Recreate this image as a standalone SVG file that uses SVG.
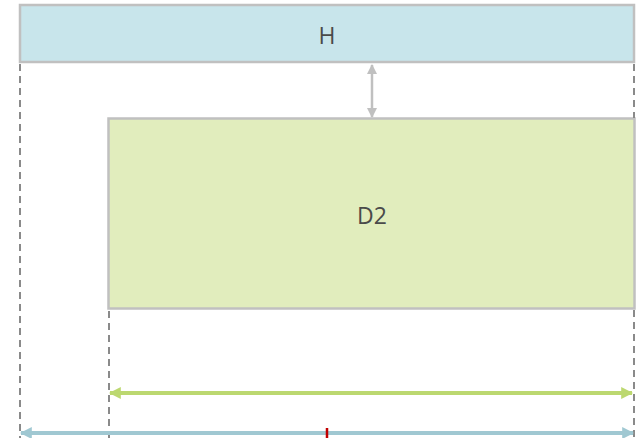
<svg xmlns="http://www.w3.org/2000/svg" width="637" height="438" viewBox="0 0 637 438">
  <style>
    .box { stroke: #c0c0c0; stroke-width: 2.5; }
    .lbl { font-family: "Open Sans", "Liberation Sans", sans-serif; font-size: 23px; fill: #4a4a4a; text-anchor: middle; dominant-baseline: central; }
    .guide { stroke: #8a8a8a; stroke-width: 2; stroke-dasharray: 7 5; fill: none; }
  </style>
  <defs>
    <marker id="ahGray" viewBox="0 0 10 10" refX="9" refY="5" markerWidth="4" markerHeight="4" orient="auto-start-reverse">
      <path d="M0,0 L10,5 L0,10 z" fill="#c0c0c0"/>
    </marker>
    <marker id="ahGreen" viewBox="0 0 10 10" refX="9" refY="5" markerWidth="3" markerHeight="3" orient="auto-start-reverse">
      <path d="M0,0 L10,5 L0,10 z" fill="#bcd870"/>
    </marker>
    <marker id="ahBlue" viewBox="0 0 10 10" refX="9" refY="5" markerWidth="3" markerHeight="3" orient="auto-start-reverse">
      <path d="M0,0 L10,5 L0,10 z" fill="#a0c8d2"/>
    </marker>
  </defs>

  <g id="H">
    <rect class="box" x="20" y="5" width="614" height="57" fill="#c8e5eb"/>
    <text class="lbl" x="327" y="35">H</text>
  </g>

  <g id="D2">
    <rect class="box" x="108.5" y="118.5" width="526" height="190" fill="#e1edbd"/>
    <text class="lbl" x="372" y="215">D2</text>
  </g>

  <g id="connectors">
    <!-- extension guides -->
    <line class="guide" x1="20" y1="64" x2="20" y2="438"/>
    <line class="guide" x1="634" y1="64" x2="634" y2="118"/>
    <line class="guide" x1="634" y1="310" x2="634" y2="438"/>
    <line class="guide" x1="109" y1="311" x2="109" y2="438"/>
    <!-- gap between H and D2 -->
    <line x1="372" y1="65" x2="372" y2="117" stroke="#c0c0c0" stroke-width="2.5" marker-start="url(#ahGray)" marker-end="url(#ahGray)"/>
    <!-- D2 width -->
    <line x1="110" y1="393" x2="632" y2="393" stroke="#bcd870" stroke-width="4" marker-start="url(#ahGreen)" marker-end="url(#ahGreen)"/>
    <!-- full width -->
    <line x1="21" y1="433" x2="633" y2="433" stroke="#a0c8d2" stroke-width="4" marker-start="url(#ahBlue)" marker-end="url(#ahBlue)"/>
    <!-- midpoint tick -->
    <line x1="327" y1="428" x2="327" y2="438" stroke="#c00000" stroke-width="2.5"/>
  </g>
</svg>
